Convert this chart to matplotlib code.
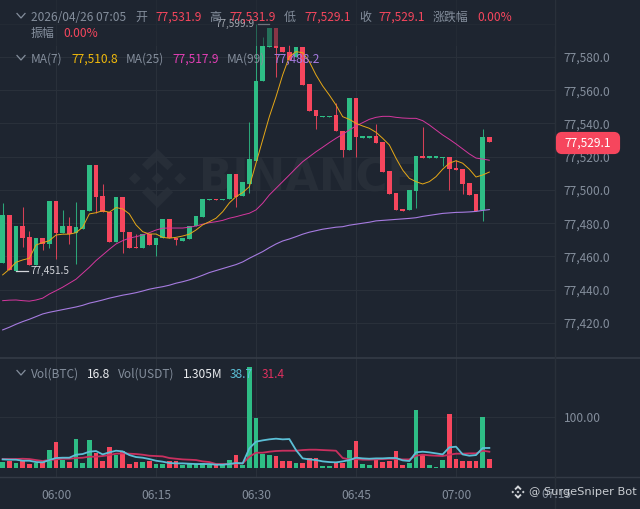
import matplotlib
matplotlib.use('Agg')
import matplotlib.pyplot as plt
import numpy as np
from matplotlib.patches import Polygon, FancyBboxPatch, Rectangle

plt.rcParams['font.family'] = ['Noto Sans CJK SC', 'DejaVu Sans']

# minutes relative to 06:00, one candle per minute
minutes = np.arange(-8, 66)

opens = [77456.1, 77485.0, 77451.5, 77478.3, 77471.7, 77454.9, 77471.1, 77467.5, 77493.4, 77474.1,
         77478.3, 77474.1, 77476.5, 77487.4, 77515.0, 77496.4, 77486.8, 77468.7, 77495.8, 77474.7,
         77465.7, 77465.1, 77473.5, 77466.9, 77471.1, 77482.6, 77471.1, 77469.3, 77470.5, 77478.3,
         77483.8, 77494.0, 77494.8, 77494.0, 77494.6, 77509.6, 77496.4, 77503.6, 77517.6, 77565.6,
         77586.0, 77597.6, 77586.0, 77583.2, 77580.2, 77586.0, 77563.8, 77548.1, 77544.0, 77544.0,
         77545.1, 77535.7, 77524.1, 77555.3, 77531.5, 77531.5, 77532.5, 77529.1, 77511.6, 77498.2,
         77488.6, 77488.0, 77499.4, 77520.5, 77519.5, 77519.5, 77519.4, 77519.9, 77513.4, 77512.6,
         77504.2, 77497.6, 77488.0, 77531.9]
closes = [77485.0, 77451.9, 77478.3, 77471.1, 77454.9, 77471.1, 77467.5, 77493.4, 77474.1, 77478.3,
          77473.5, 77477.7, 77488.0, 77515.0, 77495.8, 77486.8, 77468.7, 77495.8, 77474.7, 77465.1,
          77464.8, 77473.5, 77466.9, 77471.1, 77482.6, 77471.1, 77469.9, 77471.1, 77478.3, 77484.4,
          77494.6, 77494.8, 77494.0, 77494.8, 77509.6, 77495.8, 77504.8, 77518.6, 77565.6, 77586.6,
          77597.6, 77585.4, 77583.0, 77578.2, 77586.0, 77563.3, 77547.7, 77544.5, 77544.8, 77544.8,
          77535.5, 77524.1, 77555.3, 77531.9, 77532.3, 77532.3, 77528.5, 77510.8, 77497.6, 77488.0,
          77487.6, 77500.0, 77520.5, 77519.3, 77520.3, 77520.3, 77520.1, 77512.8, 77512.2, 77503.6,
          77497.0, 77487.6, 77531.9, 77529.1]
highs = [77492.2, 77485.0, 77478.3, 77489.8, 77475.3, 77471.1, 77471.1, 77493.4, 77493.4, 77488.0,
         77483.8, 77492.8, 77488.0, 77515.0, 77515.0, 77503.6, 77486.8, 77495.8, 77495.8, 77474.7,
         77473.5, 77473.5, 77473.5, 77471.1, 77482.6, 77482.6, 77471.1, 77471.1, 77478.3, 77484.4,
         77494.6, 77494.8, 77494.8, 77494.8, 77509.6, 77509.6, 77504.8, 77540.9, 77599.9, 77592.2,
         77597.6, 77597.6, 77586.0, 77587.2, 77586.0, 77586.0, 77563.8, 77548.1, 77544.8, 77544.8,
         77552.3, 77535.7, 77555.3, 77555.3, 77532.3, 77532.3, 77539.7, 77529.1, 77511.6, 77498.2,
         77488.6, 77500.0, 77520.5, 77537.9, 77520.3, 77520.3, 77520.1, 77519.9, 77518.0, 77512.6,
         77504.2, 77497.6, 77536.7, 77531.9]
lows = [77456.1, 77451.9, 77451.5, 77465.7, 77454.9, 77454.9, 77463.9, 77465.1, 77458.5, 77474.1,
        77467.5, 77455.5, 77476.5, 77487.4, 77486.2, 77486.8, 77468.7, 77468.7, 77462.1, 77465.1,
        77464.8, 77465.1, 77466.9, 77460.3, 77471.1, 77471.1, 77466.9, 77469.3, 77470.5, 77478.3,
        77483.8, 77494.0, 77494.0, 77494.0, 77494.6, 77489.8, 77496.4, 77498.2, 77517.6, 77565.6,
        77586.0, 77568.0, 77583.0, 77578.2, 77580.2, 77563.3, 77547.7, 77536.7, 77544.0, 77544.0,
        77535.5, 77520.0, 77524.1, 77520.0, 77531.5, 77531.5, 77528.5, 77510.8, 77497.6, 77488.0,
        77487.6, 77488.0, 77489.2, 77519.3, 77519.5, 77519.5, 77514.4, 77500.0, 77512.2, 77497.6,
        77497.0, 77487.6, 77481.4, 77529.1]

ma7 = [77448.9, 77452.3, 77456.5, 77457.9, 77458.9, 77466.9, 77468.3, 77469.5, 77472.9, 77473.4,
       77473.4, 77474.3, 77477.6, 77485.6, 77486.3, 77487.5, 77486.6, 77489.4, 77488.6, 77485.6,
       77479.0, 77474.9, 77473.5, 77473.5, 77471.5, 77471.0, 77471.5, 77472.3, 77473.4, 77475.9,
       77479.0, 77480.9, 77483.0, 77486.9, 77492.2, 77496.0, 77498.4, 77502.0, 77516.1, 77530.1,
       77544.1, 77556.1, 77569.2, 77580.2, 77583.2, 77582.6, 77577.2, 77569.2, 77562.6, 77557.1,
       77551.1, 77544.1, 77542.5, 77540.1, 77538.5, 77537.1, 77534.7, 77531.1, 77527.1, 77519.1,
       77512.0, 77507.0, 77505.0, 77503.6, 77505.0, 77508.0, 77512.5, 77516.1, 77517.6, 77516.1,
       77512.5, 77507.8, 77509.0, 77510.8]
ma25 = [77433.4, 77433.7, 77433.8, 77433.4, 77433.1, 77433.8, 77434.9, 77437.4, 77439.4, 77441.5,
        77443.9, 77446.3, 77449.9, 77453.5, 77457.5, 77460.9, 77464.3, 77467.5, 77469.5, 77471.0,
        77471.9, 77472.9, 77474.3, 77475.9, 77477.0, 77477.1, 77477.1, 77477.1, 77477.6, 77478.3,
        77479.4, 77480.3, 77480.9, 77481.7, 77483.0, 77483.9, 77485.0, 77486.0, 77488.0, 77492.0,
        77497.0, 77501.0, 77505.0, 77509.0, 77513.1, 77517.0, 77520.0, 77523.0, 77525.7, 77528.5,
        77531.1, 77533.5, 77536.1, 77538.5, 77540.5, 77542.5, 77543.7, 77544.3, 77544.3, 77543.7,
        77543.3, 77543.1, 77543.1, 77541.7, 77539.1, 77536.1, 77533.1, 77530.5, 77527.7, 77524.7,
        77521.7, 77519.2, 77518.6, 77517.9]
ma99 = [77415.8, 77417.4, 77419.2, 77420.8, 77422.2, 77423.8, 77425.4, 77426.4, 77427.2, 77428.0,
        77428.8, 77429.6, 77430.6, 77431.9, 77432.8, 77433.8, 77434.9, 77435.8, 77436.7, 77437.4,
        77438.2, 77439.2, 77440.3, 77441.1, 77441.8, 77442.7, 77443.9, 77444.8, 77445.9, 77447.2,
        77448.7, 77450.3, 77451.5, 77452.7, 77453.9, 77455.1, 77456.7, 77458.9, 77460.9, 77462.9,
        77465.3, 77467.5, 77469.3, 77470.5, 77471.9, 77473.4, 77474.6, 77475.5, 77476.4, 77477.0,
        77477.6, 77477.9, 77478.8, 77479.4, 77480.0, 77480.6, 77481.4, 77481.7, 77482.0, 77482.3,
        77482.6, 77482.9, 77483.3, 77484.1, 77484.7, 77485.3, 77485.9, 77486.2, 77486.5, 77486.6,
        77486.8, 77487.1, 77487.7, 77488.2]

volumes = [12, 13, 8.5, 13, 7, 8.5, 11, 34, 50, 15,
           10.5, 57, 10, 54, 28, 14, 40.5, 25, 33, 7,
           10.5, 10.5, 12.5, 6.5, 6.5, 14, 14, 5, 6.5, 6.5,
           8.5, 5, 5, 5, 15, 25.5, 5, 197, 97, 27,
           24, 23.5, 13, 13, 9, 10, 19, 19, 4, 4,
           8.5, 10, 35, 52, 6.5, 4.5, 15, 12, 14, 33,
           5, 9, 114, 25.5, 5, 2, 15, 105, 17.5, 14,
           14, 14, 99, 16.8]
vol_ma_btc = [16.3, 15.7, 15.7, 13.7, 13.7, 11.1, 10.5, 15.0, 19.0, 19.6,
              19.6, 25.5, 26.8, 31.4, 32.7, 26.1, 30.1, 33.3, 32.0, 24.8,
              20.9, 19.6, 17.0, 13.7, 11.8, 9.2, 8.5, 8.5, 7.8, 7.2,
              7.2, 7.2, 5.9, 5.9, 7.2, 9.2, 8.5, 37.9, 51.0, 53.6,
              55.6, 56.9, 55.6, 56.2, 34.6, 18.3, 16.3, 15.0, 12.4, 11.1,
              10.5, 12.4, 15.0, 19.6, 18.3, 17.6, 18.3, 18.3, 19.0, 19.0,
              14.4, 13.1, 30.1, 31.4, 30.1, 28.1, 26.1, 39.9, 41.2, 26.1,
              23.5, 24.8, 38.6, 38.7]
vol_ma_usdt = [17, 17, 17, 17.6, 17, 15, 13.1, 15, 16.3, 17.6,
               17.6, 19, 19.6, 21.6, 21.6, 22.9, 24.8, 27.5, 28.1, 27.5,
               26.8, 25.5, 23.5, 22.9, 22.2, 19, 17.6, 16.3, 15.7, 15,
               12.4, 11.1, 7.2, 7.2, 7.2, 8.5, 8.5, 21.6, 29.4, 29.4,
               31.4, 32.7, 33.3, 33.3, 33.3, 34.6, 35.3, 35.3, 34.6, 34,
               33.3, 19, 16.3, 17, 15.7, 15.7, 16.3, 17, 17.6, 17,
               16.3, 16.3, 23.5, 25.5, 24.2, 23.5, 22.9, 25.5, 27.5, 27.5,
               28.1, 28.1, 33.3, 31.4]

price_ticks = [77420, 77440, 77460, 77480, 77500, 77520, 77540, 77560, 77580, 77600]
price_labels = ['77,420.0', '77,440.0', '77,460.0', '77,480.0', '77,500.0', '77,520.0',
                '77,540.0', '77,560.0', '77,580.0', '']
time_ticks = [0, 15, 30, 45, 60]
time_labels = ['06:00', '06:15', '06:30', '06:45', '07:00']

BG = '#1e2530'
GRID = '#29303a'
SEP = '#333a45'
GREEN = '#2EBD85'
RED = '#F6465D'
MUTED = '#848E9C'
GOLD = '#E6A817'
MAGENTA = '#D6379F'
PURPLE = '#A67BE0'
CYAN = '#5BBFD6'
VOLRED = '#C9305F'
FS = 8.6

W, H = 640, 509
fig = plt.figure(figsize=(W / 100, H / 100), dpi=100, facecolor=BG)


def rect_px(x0, y0, x1, y1):
    return [x0 / W, 1 - y1 / H, (x1 - x0) / W, (y1 - y0) / H]


# watermark sits below everything
bg = fig.add_axes([0, 0, 1, 1], zorder=0)
bg.set_xlim(0, W)
bg.set_ylim(H, 0)
bg.axis('off')
ax = fig.add_axes(rect_px(0, 0, 555, 358), zorder=1, facecolor='none')
vax = fig.add_axes(rect_px(0, 358, 555, 477), zorder=1, facecolor='none')
ov = fig.add_axes([0, 0, 1, 1], zorder=5, facecolor='none')
ov.set_xlim(0, W)
ov.set_ylim(H, 0)
ov.axis('off')


def binance_logo(axis, cx, cy, r, color, zorder=1):
    shapes = [
        [(0, .2), (.2, 0), (0, -.2), (-.2, 0)],
        [(-.77, .2), (-.57, 0), (-.77, -.2), (-.97, 0)],
        [(.77, .2), (.97, 0), (.77, -.2), (.57, 0)],
        [(0, 1), (.53, .47), (.34, .28), (0, .6), (-.34, .28), (-.53, .47)],
        [(0, -1), (.53, -.47), (.34, -.28), (0, -.6), (-.34, -.28), (-.53, -.47)],
    ]
    for s in shapes:
        pts = [(cx + a * r, cy - b * r) for a, b in s]
        axis.add_patch(Polygon(pts, closed=True, facecolor=color, edgecolor='none', zorder=zorder))


binance_logo(bg, 157.5, 178.5, 29.5, '#272e38')
bg.text(199, 179, 'BINANCE', fontsize=31.5, fontweight='bold', family='DejaVu Sans',
        color='#272e38', ha='left', va='center')

# price pane
opens = np.array(opens)
closes = np.array(closes)
up = closes >= opens
colors = np.where(up, GREEN, RED)
ax.vlines(minutes, lows, highs, colors=colors, linewidth=0.75, alpha=0.85, zorder=2)
ax.bar(minutes, np.abs(closes - opens), bottom=np.minimum(opens, closes), width=0.7,
       color=colors, linewidth=0, zorder=3)
ax.plot(minutes, ma99, color=PURPLE, lw=0.8, zorder=4)
ax.plot(minutes, ma25, color=MAGENTA, lw=0.7, zorder=4)
ax.plot(minutes, ma7, color=GOLD, lw=0.7, zorder=4)
ax.set_xlim(-8.4, 74.85)
ax.set_ylim(77398.9, 77614.3)
ax.set_yticks(price_ticks)
ax.set_yticklabels(price_labels)
ax.set_xticks(time_ticks)
ax.set_xticklabels([])
ax.yaxis.tick_right()
ax.tick_params(axis='both', length=0, colors=MUTED, labelsize=FS)
ax.tick_params(axis='y', pad=6.3)
ax.grid(True, color=GRID, lw=0.8)
ax.set_axisbelow(True)
for s in ax.spines.values():
    s.set_visible(False)

# volume pane
vax.bar(minutes, volumes, width=0.7, color=colors, linewidth=0, zorder=3)
vax.plot(minutes, vol_ma_usdt, color=VOLRED, lw=1.3, zorder=4)
vax.plot(minutes, vol_ma_btc, color=CYAN, lw=1.3, zorder=5)
vax.set_xlim(-8.4, 74.85)
vax.set_ylim(-18.2, 215)
vax.set_yticks([100])
vax.set_yticklabels(['100.00'])
vax.yaxis.tick_right()
vax.set_xticks(time_ticks)
vax.set_xticklabels(time_labels)
vax.tick_params(axis='both', length=0, colors=MUTED, labelsize=FS)
vax.tick_params(axis='y', pad=6.3)
vax.tick_params(axis='x', pad=8.5)
vax.grid(True, color=GRID, lw=0.8)
vax.set_axisbelow(True)
for s in vax.spines.values():
    s.set_visible(False)

# separators
ov.plot([0, W], [358, 358], color=SEP, lw=1.3, zorder=1)
ov.plot([0, W], [477, 477], color=SEP, lw=1.0, zorder=1)
ov.plot([555, 555], [0, H], color=GRID, lw=1.0, zorder=1)


def label(x, y, s, color=MUTED, size=FS, **kw):
    kw.setdefault('ha', 'left')
    ov.text(x, y, s, color=color, fontsize=size, va='center', zorder=6, **kw)


def chevron(y):
    ov.plot([17, 21, 25], [y - 2.5, y + 2, y - 2.5], color=MUTED, lw=0.9, zorder=6)


# high / low markers, high one is dimmed by the legend layer
label(254.5, 24, '77,599.9', color='#a4a9b1', size=7.2, ha='right')
ov.plot([258, 269], [24, 24], color='#c0c4ca', lw=0.9, zorder=2)
label(31, 271, '77,451.5', color='#d3d6db', size=7.2)
ov.plot([16, 28], [270.6, 270.6], color='#d3d6db', lw=0.9, zorder=6)
ov.add_patch(Rectangle((0, 0), 555, 46, facecolor=BG, edgecolor='none', alpha=0.5, zorder=5))

# legend rows
chevron(16)
label(31, 17, '2026/04/26 07:05')
label(135, 17, '开')
label(155, 17, '77,531.9', RED)
label(209, 17, '高')
label(229, 17, '77,531.9', RED)
label(284, 17, '低')
label(304, 17, '77,529.1', RED)
label(359, 17, '收')
label(378, 17, '77,529.1', RED)
label(433, 17, '涨跌幅')
label(477, 17, '0.00%', RED)
label(31, 33, '振幅')
label(63, 33, '0.00%', RED)
chevron(58)
label(31, 59, 'MA(7)')
label(71.5, 59, '77,510.8', '#F0B90B')
label(126, 59, 'MA(25)')
label(172, 59, '77,517.9', '#E33FB5')
label(227, 59, 'MA(99)')
label(273.5, 59, '77,488.2', PURPLE)
chevron(373)
label(31, 374, 'Vol(BTC)')
label(87, 374, '16.8', '#EAECEF')
label(118, 374, 'Vol(USDT)')
label(183, 374, '1.305M', '#EAECEF')
label(230, 374, '38.7', CYAN)
label(262, 374, '31.4', '#E0305F')

# current price tag
ov.add_patch(FancyBboxPatch((558, 134), 60, 18, boxstyle='round,pad=0,rounding_size=4',
                            mutation_aspect=1, facecolor=RED, edgecolor=RED, lw=3, zorder=7))
ov.text(588, 143, '77,529.1', color='white', fontsize=FS, ha='center', va='center', zorder=8)

# author stamp over the last time label
label(556, 495, '07:15', ha='center')
binance_logo(ov, 518, 492, 6.8, '#d5d8dc', zorder=9)
ov.text(529, 492, '@ SurgeSniper Bot', color='#c9cdd2', fontsize=8.2, family='DejaVu Sans',
        ha='left', va='center', zorder=9)

fig.savefig('out.png', dpi=100, facecolor=BG)
